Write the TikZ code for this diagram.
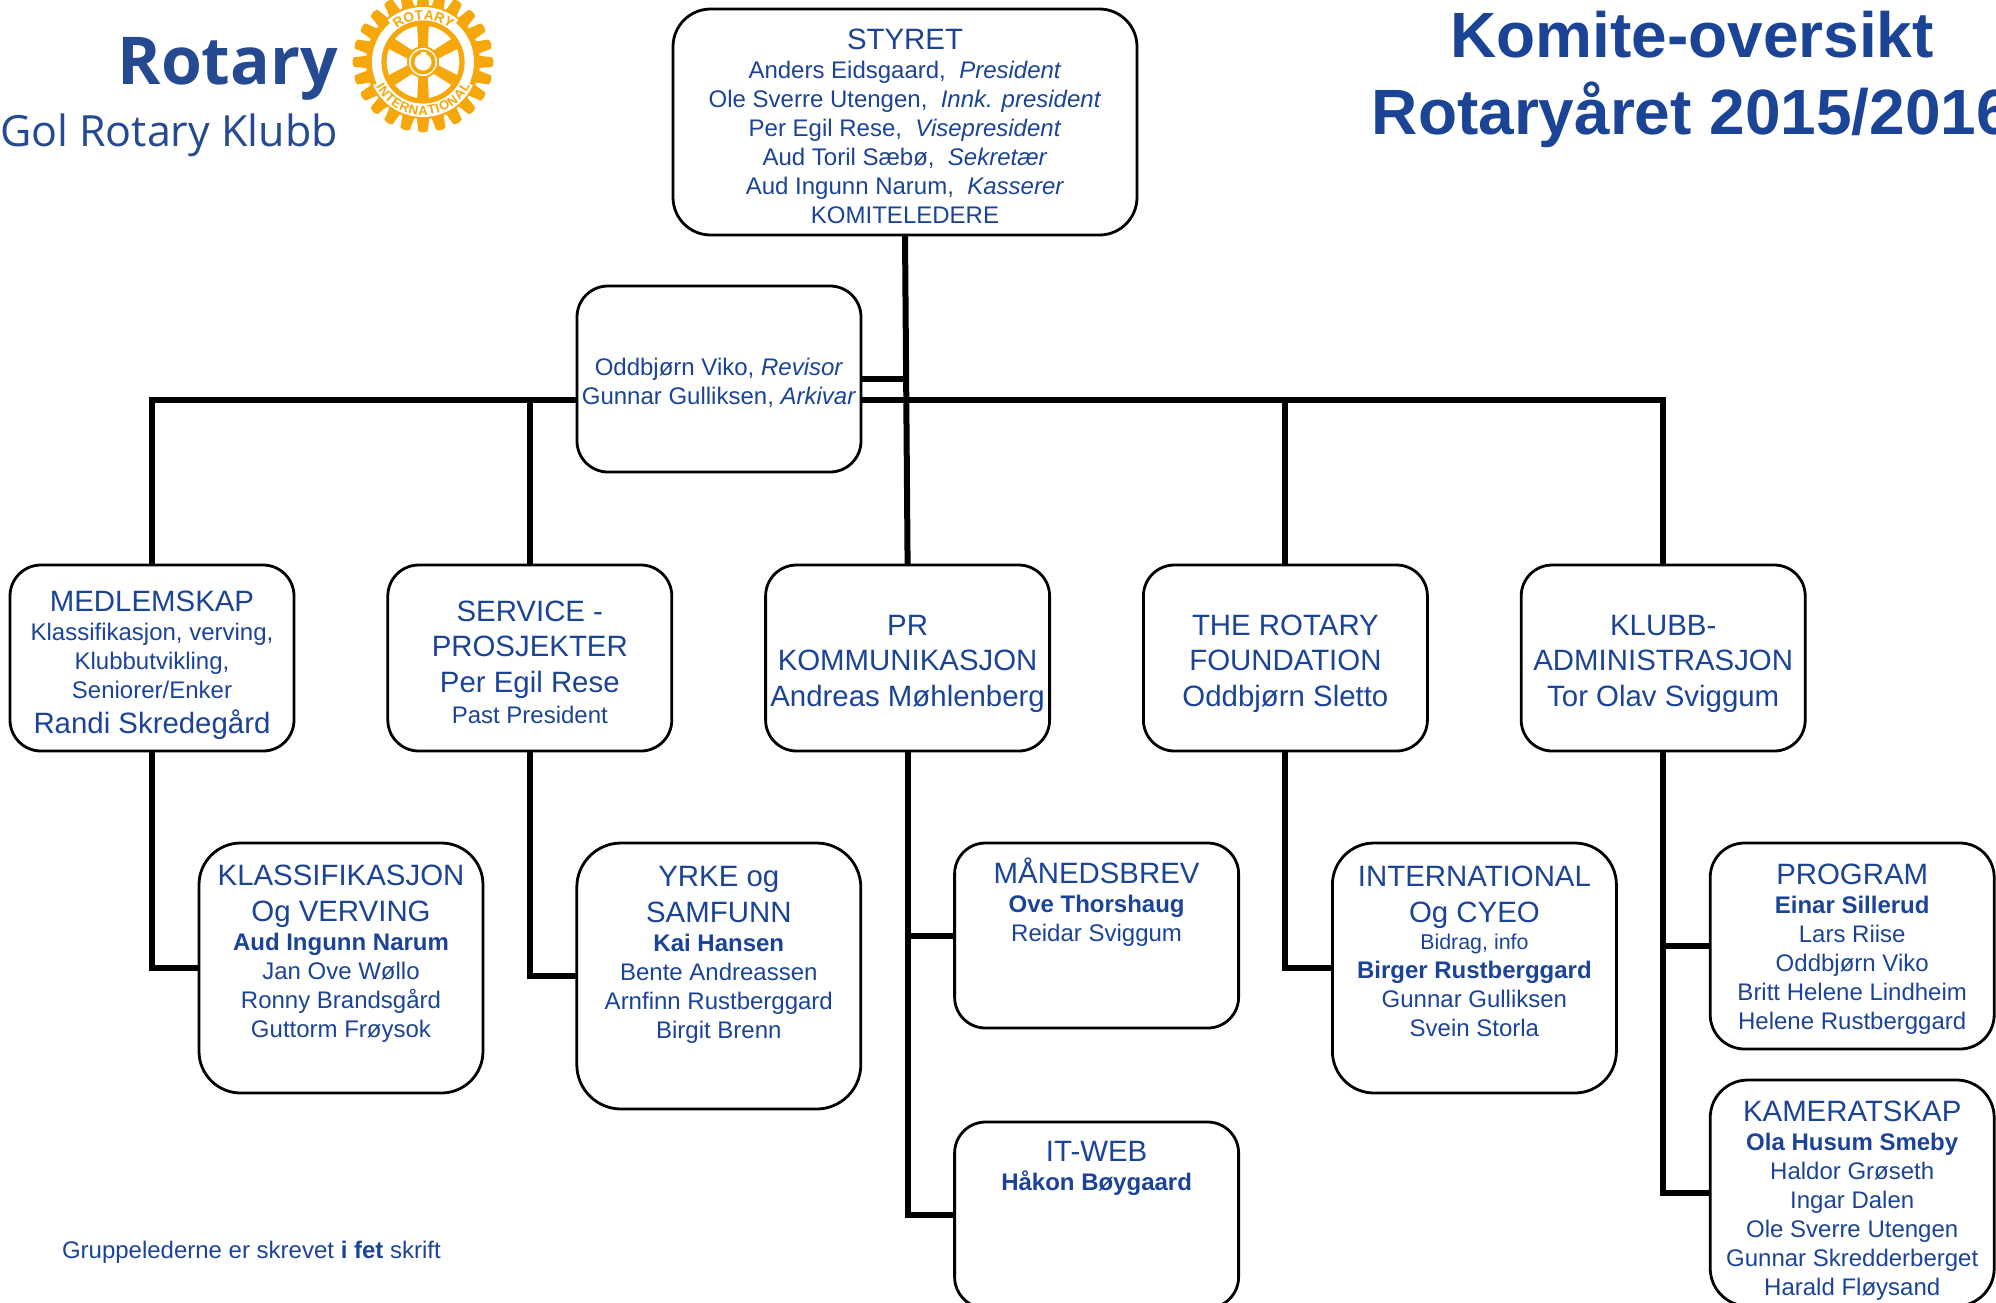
\documentclass[tikz,border=0pt]{standalone}
\usepackage{fontspec}
\usepackage{xcolor}
\setmainfont{Liberation Sans}
\newfontfamily\logofont{Open Sans}
\usetikzlibrary{positioning,calc,decorations.text}

\definecolor{rotaryblue}{HTML}{1B4496}
\definecolor{rotarygold}{HTML}{F5A70B}
\definecolor{logoblue}{HTML}{254A92}
\newcommand{\hd}{\fontsize{14.7}{17}\selectfont}
\newcommand{\nm}{\fontsize{12}{14.5}\selectfont}
\newcommand{\dn}[1]{\rule{0pt}{#1}}

\tikzset{
  box/.style={draw=black, fill=white, line width=1.4pt, inner sep=0pt, outer sep=0pt,
    minimum width=142pt, minimum height=#1, rounded corners=#1/6, align=center,
    text=rotaryblue, font=\nm},
  link/.style={draw=black, line width=3pt},
  plain/.style={inner sep=0pt, outer sep=0pt, align=center, text=rotaryblue, font=\nm},
  gold/.style={fill=rotarygold, draw=none}
}

\begin{document}
\begin{tikzpicture}[x=0.5pt, y=0.5pt, node distance=188.9pt]
\useasboundingbox (0,0) rectangle (1996,-1302);

\node[box=113pt, minimum width=232pt] (styret) at (905,-122) {\dn{14.5pt}{\hd STYRET}\\
  Anders Eidsgaard,\ \ \textit{President}\\
  Ole Sverre Utengen,\ \ \textit{Innk. president}\\
  Per Egil Rese,\ \ \textit{Visepresident}\\
  Aud Toril Sæbø,\ \ \textit{Sekretær}\\
  Aud Ingunn Narum,\ \ \textit{Kasserer}\\
  KOMITELEDERE};
\node[box=93pt] (revisor) at (719,-379) {\dn{12.6pt}Oddbjørn Viko, \textit{Revisor}\\
  Gunnar Gulliksen, \textit{Arkivar}};

\node[box=93pt] (medlemskap) at (152,-658) {\dn{17.1pt}{\hd MEDLEMSKAP}\\
  Klassifikasjon, verving,\\
  Klubbutvikling,\\
  Seniorer/Enker\\[3pt]
  {\hd Randi Skredegård}};
\node[box=93pt] (service) [right of = medlemskap] {\dn{14.5pt}{\hd SERVICE -}\\[3.3pt]
  {\hd PROSJEKTER}\\[3.3pt]
  {\hd Per Egil Rese}\\[1pt]
  Past President};
\node[box=93pt] (pr) [right of = service] {\dn{15.8pt}{\hd PR}\\[3.3pt]
  {\hd KOMMUNIKASJON}\\[3.3pt]
  {\hd Andreas Møhlenberg}};
\node[box=93pt] (foundation) [right of = pr] {\dn{15.8pt}{\hd THE ROTARY}\\[3.3pt]
  {\hd FOUNDATION}\\[3.3pt]
  {\hd Oddbjørn Sletto}};
\node[box=93pt] (klubb) [right of = foundation] {\dn{15.8pt}{\hd KLUBB-}\\[3.3pt]
  {\hd ADMINISTRASJON}\\[3.3pt]
  {\hd Tor Olav Sviggum}};

\node[box=125pt] (klassifikasjon) [below of = medlemskap, node distance=155pt, xshift=94.5pt] {{\hd KLASSIFIKASJON}\\[3.3pt]
  {\hd Og VERVING}\\
  \textbf{Aud Ingunn Narum}\\
  Jan Ove Wøllo\\
  Ronny Brandsgård\\
  Guttorm Frøysok\\[2.5pt]\mbox{}};
\node[box=133pt] (yrke) [below of = service, node distance=159pt, xshift=94.5pt] {{\hd YRKE og}\\[3.3pt]
  {\hd SAMFUNN}\\
  \textbf{Kai Hansen}\\
  Bente Andreassen\\
  Arnfinn Rustberggard\\
  Birgit Brenn\\[9pt]\mbox{}};
\node[box=92.5pt] (maanedsbrev) [below of = pr, node distance=138.75pt, xshift=94.5pt] {{\hd MÅNEDSBREV}\\
  \textbf{Ove Thorshaug}\\
  Reidar Sviggum\\[21pt]\mbox{}};
\node[box=93pt] (itweb) [below of = pr, node distance=278.5pt, xshift=94.5pt] {{\hd IT-WEB}\\
  \textbf{Håkon Bøygaard}\\[34.5pt]\mbox{}};
\node[box=125pt] (international) [below of = foundation, node distance=155pt, xshift=94.5pt] {{\hd INTERNATIONAL}\\[3.3pt]
  {\hd Og CYEO}\\[-1pt]
  {\fontsize{10.7}{12}\selectfont Bidrag, info}\\
  \textbf{Birger Rustberggard}\\
  Gunnar Gulliksen\\
  Svein Storla\\[2pt]\mbox{}};
\node[box=103pt] (program) [below of = klubb, node distance=144pt, xshift=94.5pt] {\dn{13.5pt}{\hd PROGRAM}\\
  \textbf{Einar Sillerud}\\
  Lars Riise\\
  Oddbjørn Viko\\
  Britt Helene Lindheim\\
  Helene Rustberggard};
\node[box=113pt] (kameratskap) [below of = klubb, node distance=267.5pt, xshift=94.5pt] {\dn{17.7pt}{\hd KAMERATSKAP}\\
  \textbf{Ola Husum Smeby}\\
  Haldor Grøseth\\
  Ingar Dalen\\
  Ole Sverre Utengen\\
  Gunnar Skredderberget\\
  Harald Fløysand};

\coordinate (bus) at (906,-400);
\draw[link] (styret.south) -- (pr.north);
\draw[link] (revisor.east) -- (revisor.east -| bus);
\draw[link] (medlemskap.north) |- (revisor.west |- bus);
\draw[link] (service.north) -- (service.north |- bus);
\draw[link] (revisor.east |- bus) -| (klubb.north);
\draw[link] (foundation.north) -- (foundation.north |- bus);

\draw[link] (medlemskap.south) |- (klassifikasjon.west);
\draw[link] (service.south) |- (yrke.west);
\draw[link] (pr.south) |- (maanedsbrev.west);
\draw[link] (pr.south) |- (itweb.west);
\draw[link] (foundation.south) |- (international.west);
\draw[link] (klubb.south) |- (program.west);
\draw[link] (klubb.south) |- (kameratskap.west);

\node[plain, font=\fontsize{32}{38.5}\selectfont\bfseries] (title) at (1692,-79.5) {Komite-oversikt\\Rotaryåret 2015/2016};
\node[plain, anchor=west] (note) at (62,-1252.5) {Gruppelederne er skrevet \textbf{i fet} skrift};

\node[plain, text=logoblue, anchor=base east, font=\logofont\bfseries\fontsize{33}{36}\selectfont] (rotaryname) at (338,-84) {Rotary};
\node[plain, text=logoblue, anchor=base west, font=\logofont\fontsize{21.5}{24}\selectfont] (golname) at (0,-146) {Gol Rotary Klubb};

\begin{scope}[shift={(423,-62)}]
  \foreach \a in {0,15,...,345}
    \fill[gold, rotate=\a] (-6.8,50) -- (-4.8,69) .. controls (-2,71) and (2,71) .. (4.8,69) -- (6.8,50) -- cycle;
  \fill[gold] (0,0) circle (57);
  \fill[white] (0,0) circle (51);
  \fill[white] (50:41.5) arc[start angle=50, end angle=130, radius=41.5] -- (130:55) arc[start angle=130, end angle=50, radius=55] -- cycle;
  \fill[white] (205:41.5) arc[start angle=205, end angle=335, radius=41.5] -- (335:55) arc[start angle=335, end angle=205, radius=55] -- cycle;
  \draw[rotarygold, line width=2.6pt] (0,0) circle (39);
  \foreach \a in {0,60,...,300}
    \fill[gold, rotate=\a] (-4,0) -- (-6,40) -- (6,40) -- (4,0) -- cycle;
  \fill[gold] (0,0) circle (16);
  \fill[white] (0,0) circle (14);
  \fill[gold] (0,0) circle (12.5);
  \fill[white] (0,0) circle (8.5);
  \fill[white] (-2.5,6) rectangle (2.5,10.5);
  \path[decorate, decoration={text along path, text align={fit to path},
    text={|\fontsize{6.8}{7}\selectfont\bfseries\color{rotarygold}|ROTARY}}]
    (128:42.5) arc[start angle=128, end angle=52, radius=42.5];
  \path[decorate, decoration={text along path, text align={fit to path},
    text={|\fontsize{6.5}{7}\selectfont\bfseries\color{rotarygold}|INTERNATIONAL}}]
    (207:53) arc[start angle=207, end angle=333, radius=53];
\end{scope}

\end{tikzpicture}
\end{document}
